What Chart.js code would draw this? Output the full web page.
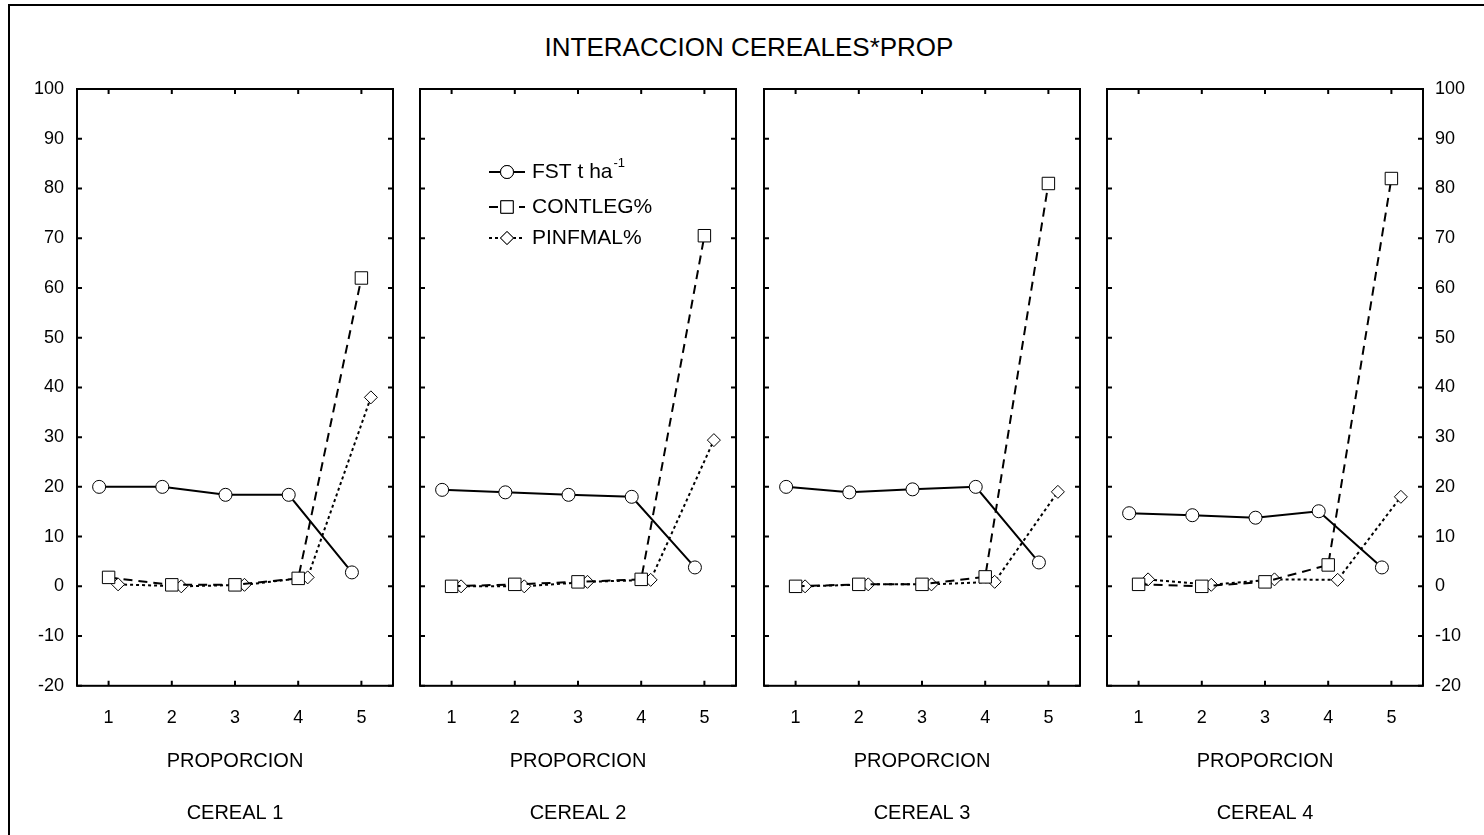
<!DOCTYPE html>
<html>
<head>
<meta charset="utf-8">
<script src="https://cdn.jsdelivr.net/npm/chart.js@4.4.0/dist/chart.umd.min.js"></script>
<style>
body { margin: 0; background: #fff; }
#wrap { position: relative; width: 1484px; height: 835px; overflow: hidden; background: #fff; font-family: "Liberation Sans", Arial, sans-serif; }
#frame { position: absolute; left: 8px; top: 4px; width: 1600px; height: 900px; border-left: 2px solid #000; border-top: 2px solid #000; }
#title { position: absolute; left: 0; top: 32px; width: 1498px; text-align: center; font-size: 26px; line-height: 30px; color: #000; }
canvas { position: absolute; top: 60px; }
</style>
</head>
<body>
<div id="wrap">
  <div id="frame"></div>
  <div id="title">INTERACCION CEREALES*PROP</div>
  <canvas id="c0" width="456" height="775" style="left:7px"></canvas>
  <canvas id="c1" width="456" height="775" style="left:350px"></canvas>
  <canvas id="c2" width="456" height="775" style="left:694px"></canvas>
  <canvas id="c3" width="456" height="775" style="left:1037px"></canvas>
</div>
<script>
// data
var proporcion = [1, 2, 3, 4, 5];
var cereales = ['CEREAL 1', 'CEREAL 2', 'CEREAL 3', 'CEREAL 4'];
var yTicks = [-20, -10, 0, 10, 20, 30, 40, 50, 60, 70, 80, 90, 100];

var fst = [
    [20, 20, 18.4, 18.4, 2.8],
    [19.4, 18.9, 18.4, 18.0, 3.8],
    [20, 18.9, 19.5, 20, 4.8],
    [14.7, 14.3, 13.8, 15.1, 3.8]
];
var contleg = [
    [1.8, 0.3, 0.3, 1.6, 62],
    [0, 0.4, 0.9, 1.4, 70.5],
    [0, 0.4, 0.4, 1.9, 81],
    [0.4, 0, 0.9, 4.3, 82]
];
var pinfmal = [
    [0.4, 0, 0.3, 1.8, 38],
    [0, 0, 0.9, 1.3, 29.4],
    [0, 0.4, 0.4, 0.9, 19],
    [1.4, 0.3, 1.4, 1.3, 18]
];
var seriesNames = ['FST t ha', 'CONTLEG%', 'PINFMAL%'];
var seriesSup = ['-1', '', ''];

// small sideways shift of each series, like the original
var shift = [-0.15, 0, 0.15];

function pts(vals, off) {
    return vals.map(function (v, k) { return { x: proporcion[k] + off, y: v }; });
}

var frameTicks = {
    id: 'frameTicks',
    beforeDatasetsDraw: function (chart) {
        var ctx = chart.ctx, a = chart.chartArea, x = chart.scales.x, y = chart.scales.y;
        ctx.save();
        ctx.strokeStyle = '#000';
        ctx.lineWidth = 2;
        ctx.strokeRect(a.left, a.top, a.right - a.left, a.bottom - a.top);
        ctx.beginPath();
        x.ticks.forEach(function (t) {
            var px = x.getPixelForValue(t.value);
            ctx.moveTo(px, a.top); ctx.lineTo(px, a.top + 5);
            ctx.moveTo(px, a.bottom); ctx.lineTo(px, a.bottom - 5);
        });
        y.ticks.forEach(function (t) {
            var py = y.getPixelForValue(t.value);
            ctx.moveTo(a.left, py); ctx.lineTo(a.left + 5, py);
            ctx.moveTo(a.right, py); ctx.lineTo(a.right - 5, py);
        });
        ctx.stroke();
        ctx.restore();
    }
};

var legendBox = {
    id: 'legendBox',
    afterDatasetsDraw: function (chart, args, opts) {
        if (!opts.show) return;
        var ctx = chart.ctx, a = chart.chartArea;
        var rowsY = [83, 118, 149];
        ctx.save();
        chart.data.datasets.forEach(function (ds, i) {
            var yy = a.top + rowsY[i];
            var x0 = a.left + 69, x1 = a.left + 105, xm = a.left + 87;
            ctx.strokeStyle = '#000';
            ctx.lineWidth = 2;
            ctx.setLineDash(ds.borderDash || []);
            ctx.beginPath(); ctx.moveTo(x0, yy); ctx.lineTo(x1, yy); ctx.stroke();
            ctx.setLineDash([]);
            ctx.fillStyle = '#fff';
            ctx.lineWidth = 1;
            Chart.helpers.drawPoint(ctx, { pointStyle: ds.pointStyle, radius: ds.pointRadius, rotation: 0, borderWidth: 1 }, xm, yy);
            ctx.fill(); ctx.stroke();
            ctx.fillStyle = '#000';
            ctx.font = '21px "Liberation Sans", Arial, sans-serif';
            ctx.textBaseline = 'middle';
            ctx.textAlign = 'left';
            ctx.fillText(seriesNames[i], a.left + 112, yy);
            if (seriesSup[i]) {
                var w = ctx.measureText(seriesNames[i]).width;
                ctx.font = '13px "Liberation Sans", Arial, sans-serif';
                ctx.fillText(seriesSup[i], a.left + 112 + w + 1, yy - 9);
            }
        });
        ctx.restore();
    }
};

cereales.forEach(function (name, i) {
    new Chart(document.getElementById('c' + i), {
        type: 'scatter',
        data: {
            datasets: [{
                label: seriesNames[0] + seriesSup[0],
                data: pts(fst[i], shift[0]),
                showLine: true,
                borderColor: '#000',
                borderWidth: 2,
                pointStyle: 'circle',
                pointRadius: 6.5,
                pointBackgroundColor: '#fff',
                pointBorderColor: '#000',
                pointBorderWidth: 1
            }, {
                label: seriesNames[1],
                data: pts(contleg[i], shift[1]),
                showLine: true,
                borderColor: '#000',
                borderWidth: 2,
                borderDash: [9, 6],
                pointStyle: 'rect',
                pointRadius: 8.8,
                pointBackgroundColor: '#fff',
                pointBorderColor: '#000',
                pointBorderWidth: 1
            }, {
                label: seriesNames[2],
                data: pts(pinfmal[i], shift[2]),
                showLine: true,
                borderColor: '#000',
                borderWidth: 2,
                borderDash: [3, 3],
                pointStyle: 'rectRot',
                pointRadius: 6.5,
                pointBackgroundColor: '#fff',
                pointBorderColor: '#000',
                pointBorderWidth: 1
            }]
        },
        options: {
            responsive: false,
            animation: false,
            devicePixelRatio: 1,
            layout: { padding: { top: 29, bottom: 9.6, left: 0, right: 0 } },
            scales: {
                x: {
                    type: 'linear',
                    min: 0.5,
                    max: 5.5,
                    afterBuildTicks: function (s) { s.ticks = proporcion.map(function (v) { return { value: v }; }); },
                    afterFit: function (s) { s.height = 115.6; },
                    grid: { display: false, drawTicks: false },
                    border: { display: false },
                    ticks: { color: '#000', font: { size: 18 }, padding: 21, maxRotation: 0 },
                    title: { display: true, text: 'PROPORCION', color: '#000', font: { size: 20 }, padding: { top: 0, bottom: 28 } }
                },
                y: {
                    position: 'left',
                    min: -20,
                    max: 100,
                    afterBuildTicks: function (s) { s.ticks = yTicks.map(function (v) { return { value: v }; }); },
                    afterFit: function (s) { s.width = 70; },
                    grid: { display: false, drawTicks: false },
                    border: { display: false },
                    ticks: { display: i === 0, color: '#000', font: { size: 18 }, padding: 13 }
                },
                y2: {
                    position: 'right',
                    min: -20,
                    max: 100,
                    afterBuildTicks: function (s) { s.ticks = yTicks.map(function (v) { return { value: v }; }); },
                    afterFit: function (s) { s.width = 70; },
                    grid: { display: false, drawTicks: false },
                    border: { display: false },
                    ticks: { display: i === 3, color: '#000', font: { size: 18 }, padding: 12 }
                }
            },
            plugins: {
                legend: { display: false },
                tooltip: { enabled: false },
                title: { display: true, position: 'bottom', text: name, color: '#000', font: { size: 20, weight: 'normal' }, padding: { top: 0, bottom: 0 } },
                legendBox: { show: i === 1 }
            }
        },
        plugins: [frameTicks, legendBox]
    });
});
</script>
</body>
</html>
